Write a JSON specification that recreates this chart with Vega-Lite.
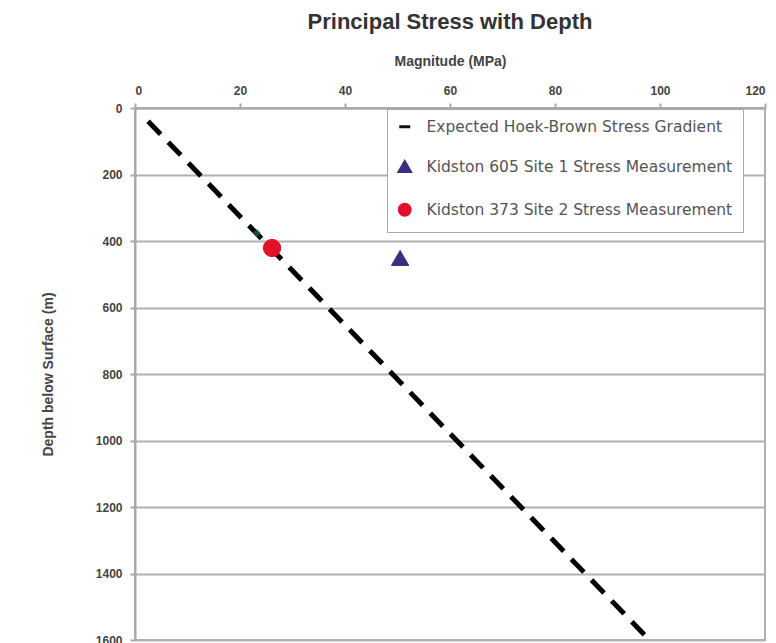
{
  "$schema": "https://vega.github.io/schema/vega-lite/v6.json",
  "autosize": "none",
  "width": 630,
  "height": 532,
  "padding": {"left": 135, "top": 108, "right": 11, "bottom": 3},
  "background": "white",
  "title": {
    "text": "Principal Stress with Depth",
    "font": "Liberation Sans",
    "fontSize": 22,
    "fontWeight": "bold",
    "color": "#333333",
    "anchor": "middle",
    "offset": 20
  },
  "config": {
    "view": {"stroke": "#b0b0b0", "strokeWidth": 2},
    "axis": {
      "labelFont": "Liberation Sans",
      "labelFontSize": 12,
      "labelFontWeight": "bold",
      "labelColor": "#444444",
      "titleFont": "Liberation Sans",
      "titleFontSize": 14,
      "titleFontWeight": "bold",
      "titleColor": "#444444",
      "domainColor": "#a8a8a8",
      "domainWidth": 2,
      "tickColor": "#a8a8a8",
      "tickWidth": 2,
      "gridColor": "#b0b0b0",
      "gridWidth": 2
    }
  },
  "layer": [
    {
      "data": {"values": [
        {"magnitude": 2.5, "depth": 40},
        {"magnitude": 98, "depth": 1600}
      ]},
      "mark": {"type": "line", "color": "black", "strokeWidth": 5, "strokeDash": [18, 11], "clip": true},
      "encoding": {
        "x": {"field": "magnitude", "type": "quantitative",
          "scale": {"domain": [0, 120], "nice": false},
          "axis": {"orient": "top", "values": [0, 20, 40, 60, 80, 100, 120], "title": "Magnitude (MPa)", "grid": false, "titlePadding": 16, "labelPadding": 6}},
        "y": {"field": "depth", "type": "quantitative",
          "scale": {"domain": [0, 1600], "reverse": true, "nice": false},
          "axis": {"values": [0, 200, 400, 600, 800, 1000, 1200, 1400, 1600], "format": "d", "title": "Depth below Surface (m)", "grid": true, "titlePadding": 40, "labelPadding": 8}}
      }
    },
    {
      "data": {"values": [
        {"magnitude": 23.2, "depth": 376}
      ]},
      "mark": {"type": "point", "shape": "diamond", "filled": true, "color": "#1f6e4e", "size": 70},
      "encoding": {
        "x": {"field": "magnitude", "type": "quantitative"},
        "y": {"field": "depth", "type": "quantitative"}
      }
    },
    {
      "data": {"values": [
        {"series": "Kidston 605 Site 1 Stress Measurement", "magnitude": 50.5, "depth": 451},
        {"series": "Kidston 373 Site 2 Stress Measurement", "magnitude": 26.1, "depth": 421}
      ]},
      "mark": {"type": "point", "filled": false, "opacity": 1, "strokeWidth": 1},
      "encoding": {
        "x": {"field": "magnitude", "type": "quantitative"},
        "y": {"field": "depth", "type": "quantitative"},
        "size": {"value": 300},
        "color": {"field": "series", "type": "nominal",
          "scale": {"domain": ["Expected Hoek-Brown Stress Gradient", "Kidston 605 Site 1 Stress Measurement", "Kidston 373 Site 2 Stress Measurement"],
                    "range": ["#111111", "#3b2f7e", "#e3102a"]},
          "legend": {
            "orient": "none", "legendX": 252, "legendY": 1,
            "title": null,
            "labelFont": "DejaVu Sans", "labelFontSize": 15.5, "labelFontWeight": "normal", "labelColor": "#555555",
            "labelLimit": 400,
            "strokeColor": "#a8a8a8", "fillColor": "white", "padding": 10,
            "rowPadding": 20, "symbolSize": 120, "symbolStrokeWidth": 3, "labelOffset": 14
          }},
        "fill": {"field": "series", "type": "nominal",
          "scale": {"domain": ["Expected Hoek-Brown Stress Gradient", "Kidston 605 Site 1 Stress Measurement", "Kidston 373 Site 2 Stress Measurement"],
                    "range": ["#111111", "#3b2f7e", "#e3102a"]}},
        "shape": {"field": "series", "type": "nominal",
          "scale": {"domain": ["Expected Hoek-Brown Stress Gradient", "Kidston 605 Site 1 Stress Measurement", "Kidston 373 Site 2 Stress Measurement"],
                    "range": ["stroke", "triangle-up", "circle"]}}
      }
    }
  ]
}
